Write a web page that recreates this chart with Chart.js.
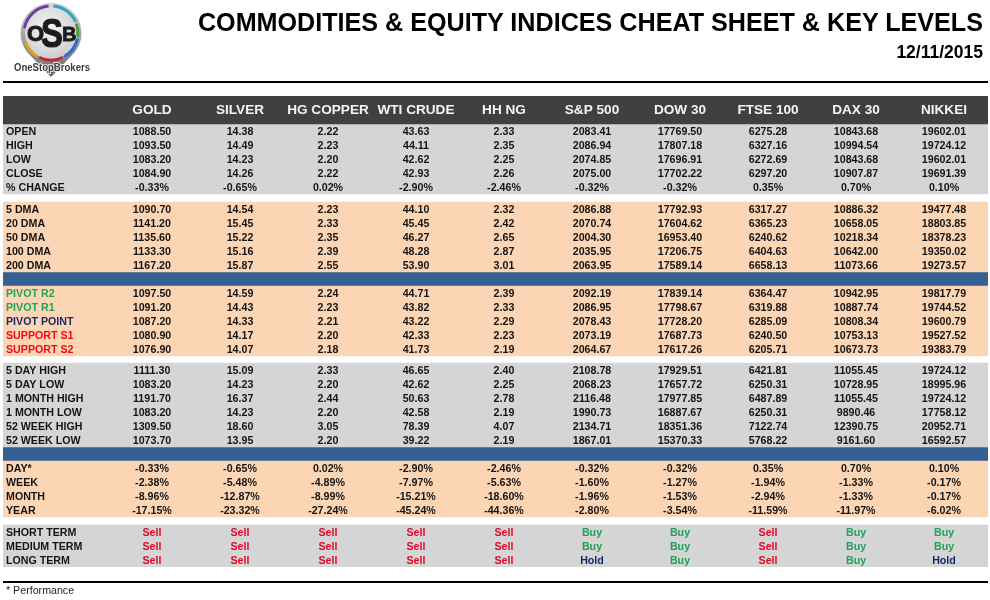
<!DOCTYPE html>
<html>
<head>
<meta charset="utf-8">
<title>Cheat Sheet</title>
<script src="https://cdn.jsdelivr.net/npm/chart.js@4/dist/chart.umd.min.js"></script>
<style>
    body { margin: 0; background: #fff; font-family: "Liberation Sans", Arial, sans-serif; }
    #wrap { position: relative; width: 990px; height: 600px; overflow: hidden; }
    #sheet { position: absolute; left: 0; top: 0; }
    .rule { position: absolute; left: 3px; width: 985px; height: 2px; background: #000; }
    #title { position: absolute; right: 7px; top: 8px; font-size: 25.15px; font-weight: bold; color: #000; white-space: nowrap; }
    #date { position: absolute; right: 7px; top: 42px; font-size: 17.5px; font-weight: bold; color: #000; }
    #note { position: absolute; left: 6px; top: 584px; font-size: 10.67px; color: #222; }
    #logo { position: absolute; left: 0; top: 0; }
</style>
</head>
<body>
<div id="wrap">
    <canvas id="sheet" width="990" height="600"></canvas>
    <svg id="logo" width="100" height="82" viewBox="0 0 100 82">
        <defs>
            <linearGradient id="pin" x1="0" y1="0" x2="0" y2="1">
                <stop offset="0" stop-color="#d8d8d8"/>
                <stop offset="0.7" stop-color="#8a8a8a"/>
                <stop offset="1" stop-color="#666"/>
            </linearGradient>
            <radialGradient id="disc" cx="0.45" cy="0.4" r="0.7">
                <stop offset="0" stop-color="#f6f6f6"/>
                <stop offset="1" stop-color="#c8c8c8"/>
            </radialGradient>
        </defs>
        <path d="M27 52 A30.5 30.5 0 1 1 75 52 L51 77 Z" fill="url(#pin)"/>
        <circle cx="51" cy="33" r="26" fill="url(#disc)"/>
        <g fill="none" stroke-width="3">
            <path d="M24.4 28.3 A27 27 0 0 1 48.6 6.1" stroke="#6a3fa0"/>
            <path d="M53.4 6.1 A27 27 0 0 1 75.5 21.6" stroke="#2ba6c4"/>
            <path d="M76.4 23.8 A27 27 0 0 1 77.7 36.8" stroke="#4e9a47"/>
            <path d="M77.4 38.6 A27 27 0 0 1 64.5 56.4" stroke="#2a6fd0"/>
            <path d="M62.4 57.5 A27 27 0 0 1 39.6 57.5" stroke="#c2252d"/>
            <path d="M37.5 56.4 A27 27 0 0 1 25.6 42.2" stroke="#e0a020"/>
        </g>
        <g fill="#1c1c1c" stroke="#1c1c1c" font-weight="bold" font-family="Liberation Sans">
            <text x="27" y="41" font-size="22" stroke-width="1">O</text>
            <text transform="translate(41 47) scale(0.8 1)" font-size="41" stroke-width="1.2">S</text>
            <text x="62" y="41" font-size="20" stroke-width="0.8">B</text>
        </g>
        <text x="14" y="71" font-size="10.5" font-weight="bold" fill="#3a3a3a" stroke="#fff" stroke-width="1.6" paint-order="stroke" textLength="76" lengthAdjust="spacingAndGlyphs" font-family="Liberation Sans">OneStopBrokers</text>
    </svg>
    <div class="rule" style="top:81px"></div>
    <div class="rule" style="top:581px;height:2px"></div>
    <div id="title">COMMODITIES &amp; EQUITY INDICES CHEAT SHEET &amp; KEY LEVELS</div>
    <div id="date">12/11/2015</div>
    <div id="note">* Performance</div>
</div>

<script>
// ---------------- DATA ----------------
const columns = ["GOLD", "SILVER", "HG COPPER", "WTI CRUDE", "HH NG", "S&P 500", "DOW 30", "FTSE 100", "DAX 30", "NIKKEI"];

const open_ = [1088.50, 14.38, 2.22, 43.63, 2.33, 2083.41, 17769.50, 6275.28, 10843.68, 19602.01];
const high = [1093.50, 14.49, 2.23, 44.11, 2.35, 2086.94, 17807.18, 6327.16, 10994.54, 19724.12];
const low = [1083.20, 14.23, 2.20, 42.62, 2.25, 2074.85, 17696.91, 6272.69, 10843.68, 19602.01];
const close_ = [1084.90, 14.26, 2.22, 42.93, 2.26, 2075.00, 17702.22, 6297.20, 10907.87, 19691.39];
const pctChange = [-0.33, -0.65, 0.02, -2.90, -2.46, -0.32, -0.32, 0.35, 0.70, 0.10];

const dma5 = [1090.70, 14.54, 2.23, 44.10, 2.32, 2086.88, 17792.93, 6317.27, 10886.32, 19477.48];
const dma20 = [1141.20, 15.45, 2.33, 45.45, 2.42, 2070.74, 17604.62, 6365.23, 10658.05, 18803.85];
const dma50 = [1135.60, 15.22, 2.35, 46.27, 2.65, 2004.30, 16953.40, 6240.62, 10218.34, 18378.23];
const dma100 = [1133.30, 15.16, 2.39, 48.28, 2.87, 2035.95, 17206.75, 6404.63, 10642.00, 19350.02];
const dma200 = [1167.20, 15.87, 2.55, 53.90, 3.01, 2063.95, 17589.14, 6658.13, 11073.66, 19273.57];

const pivotR2 = [1097.50, 14.59, 2.24, 44.71, 2.39, 2092.19, 17839.14, 6364.47, 10942.95, 19817.79];
const pivotR1 = [1091.20, 14.43, 2.23, 43.82, 2.33, 2086.95, 17798.67, 6319.88, 10887.74, 19744.52];
const pivotPoint = [1087.20, 14.33, 2.21, 43.22, 2.29, 2078.43, 17728.20, 6285.09, 10808.34, 19600.79];
const supportS1 = [1080.90, 14.17, 2.20, 42.33, 2.23, 2073.19, 17687.73, 6240.50, 10753.13, 19527.52];
const supportS2 = [1076.90, 14.07, 2.18, 41.73, 2.19, 2064.67, 17617.26, 6205.71, 10673.73, 19383.79];

const day5High = [1111.30, 15.09, 2.33, 46.65, 2.40, 2108.78, 17929.51, 6421.81, 11055.45, 19724.12];
const day5Low = [1083.20, 14.23, 2.20, 42.62, 2.25, 2068.23, 17657.72, 6250.31, 10728.95, 18995.96];
const month1High = [1191.70, 16.37, 2.44, 50.63, 2.78, 2116.48, 17977.85, 6487.89, 11055.45, 19724.12];
const month1Low = [1083.20, 14.23, 2.20, 42.58, 2.19, 1990.73, 16887.67, 6250.31, 9890.46, 17758.12];
const week52High = [1309.50, 18.60, 3.05, 78.39, 4.07, 2134.71, 18351.36, 7122.74, 12390.75, 20952.71];
const week52Low = [1073.70, 13.95, 2.20, 39.22, 2.19, 1867.01, 15370.33, 5768.22, 9161.60, 16592.57];

const perfDay = [-0.33, -0.65, 0.02, -2.90, -2.46, -0.32, -0.32, 0.35, 0.70, 0.10];
const perfWeek = [-2.38, -5.48, -4.89, -7.97, -5.63, -1.60, -1.27, -1.94, -1.33, -0.17];
const perfMonth = [-8.96, -12.87, -8.99, -15.21, -18.60, -1.96, -1.53, -2.94, -1.33, -0.17];
const perfYear = [-17.15, -23.32, -27.24, -45.24, -44.36, -2.80, -3.54, -11.59, -11.97, -6.02];

const shortTerm = ["Sell", "Sell", "Sell", "Sell", "Sell", "Buy", "Buy", "Sell", "Buy", "Buy"];
const mediumTerm = ["Sell", "Sell", "Sell", "Sell", "Sell", "Buy", "Buy", "Sell", "Buy", "Buy"];
const longTerm = ["Sell", "Sell", "Sell", "Sell", "Sell", "Hold", "Buy", "Sell", "Buy", "Hold"];

// ---------------- COLOURS ----------------
const GREY = "#d5d5d5", PEACH = "#fcd5b4", BLUE = "#366092", DARK = "#404040";
const GREEN = "#1fa557", NAVY = "#1f2a60", RED = "#f00a14", INK = "#141414";
const signalColor = { Sell: "#dc0a28", Buy: "#1fa15a", Hold: "#12286a" };

// ---------------- TABLE LAYOUT ----------------
const price = v => v.toFixed(2);
const pct = v => v.toFixed(2) + "%";
const word = v => v;

// one entry per row, in drawing order
const rows = [];
let cursor = 0;

function addRow(band, label, values, fmt, labelColor) {
    rows.push({ y: cursor + 0.5, band, label, values, fmt, labelColor: labelColor || INK });
    cursor += 1;
}
function addGap(size) { cursor += size; }

addRow(DARK); addRow(DARK);
addRow(GREY, "OPEN", open_, price);
addRow(GREY, "HIGH", high, price);
addRow(GREY, "LOW", low, price);
addRow(GREY, "CLOSE", close_, price);
addRow(GREY, "% CHANGE", pctChange, pct);
addGap(0.57);
addRow(PEACH, "5 DMA", dma5, price);
addRow(PEACH, "20 DMA", dma20, price);
addRow(PEACH, "50 DMA", dma50, price);
addRow(PEACH, "100 DMA", dma100, price);
addRow(PEACH, "200 DMA", dma200, price);
addRow(BLUE);
addRow(PEACH, "PIVOT R2", pivotR2, price, GREEN);
addRow(PEACH, "PIVOT R1", pivotR1, price, GREEN);
addRow(PEACH, "PIVOT POINT", pivotPoint, price, NAVY);
addRow(PEACH, "SUPPORT S1", supportS1, price, RED);
addRow(PEACH, "SUPPORT S2", supportS2, price, RED);
addGap(0.5);
addRow(GREY, "5 DAY HIGH", day5High, price);
addRow(GREY, "5 DAY LOW", day5Low, price);
addRow(GREY, "1 MONTH HIGH", month1High, price);
addRow(GREY, "1 MONTH LOW", month1Low, price);
addRow(GREY, "52 WEEK HIGH", week52High, price);
addRow(GREY, "52 WEEK LOW", week52Low, price);
addRow(BLUE);
addRow(PEACH, "DAY*", perfDay, pct);
addRow(PEACH, "WEEK", perfWeek, pct);
addRow(PEACH, "MONTH", perfMonth, pct);
addRow(PEACH, "YEAR", perfYear, pct);
addGap(0.57);
addRow(GREY, "SHORT TERM", shortTerm, word);
addRow(GREY, "MEDIUM TERM", mediumTerm, word);
addRow(GREY, "LONG TERM", longTerm, word);

const X_MIN = -0.693, X_MAX = 10.5;

function bandDataset(color) {
    return {
        data: rows.filter(r => r.band === color).map(r => ({ x: [X_MIN, X_MAX], y: r.y })),
        backgroundColor: color,
        borderWidth: 0,
        barThickness: 14,
        grouped: false
    };
}

// ---------------- CELL TEXT ----------------
const cellText = {
    id: "cellText",
    afterDatasetsDraw(chart) {
        const { ctx, scales: { x, y } } = chart;
        ctx.save();
        ctx.textBaseline = "middle";

        // column headings
        ctx.font = "bold 13.6px 'Liberation Sans'";
        ctx.fillStyle = "#f4f4f4";
        ctx.textAlign = "center";
        columns.forEach((name, i) => {
            ctx.fillText(name, x.getPixelForValue(i + 1), y.getPixelForValue(1));
        });

        rows.filter(r => r.label).forEach(r => {
            const py = y.getPixelForValue(r.y) + 1;

            ctx.font = "bold 10.67px 'Liberation Sans'";
            ctx.textAlign = "left";
            ctx.fillStyle = r.labelColor;
            ctx.fillText(r.label, x.getPixelForValue(X_MIN) + 3, py);

            ctx.textAlign = "center";
            r.values.forEach((v, i) => {
                ctx.fillStyle = signalColor[v] || INK;
                ctx.fillText(r.fmt(v), x.getPixelForValue(i + 1), py);
            });
        });
        ctx.restore();
    }
};

// ---------------- CHART ----------------
new Chart(document.getElementById("sheet").getContext("2d"), {
    type: "bar",
    data: { datasets: [DARK, GREY, PEACH, BLUE].map(bandDataset) },
    options: {
        indexAxis: "y",
        responsive: false,
        animation: false,
        devicePixelRatio: 1,
        layout: { padding: { left: 3, right: 2, top: 96, bottom: 600 - 96 - cursor * 14 } },
        plugins: { legend: { display: false }, tooltip: { enabled: false } },
        scales: {
            x: { type: "linear", min: X_MIN, max: X_MAX, display: false },
            y: { type: "linear", reverse: true, offset: false, min: 0, max: cursor, display: false }
        }
    },
    plugins: [cellText]
});
</script>
</body>
</html>
